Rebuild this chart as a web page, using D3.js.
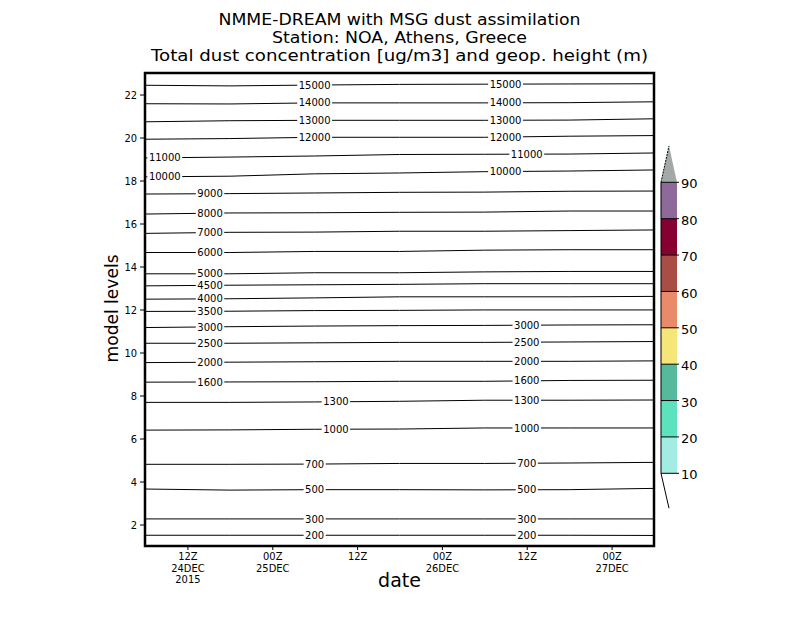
<!DOCTYPE html>
<html lang="en">
<head>
<meta charset="UTF-8">
<title>NMME-DREAM dust - NOA, Athens</title>
<script src="https://d3js.org/d3.v7.min.js"></script>
<style>
  body { margin: 0; background: #fff; }
  svg { display: block; font-family: "DejaVu Sans", sans-serif; }
</style>
</head>
<body>
<div id="chart"></div>
<script>
const sampleHours = [0, 12, 24, 36, 48, 60, 72];

const heightValues = [15000, 14000, 13000, 12000, 11000, 10000, 9000, 8000, 7000, 6000,
                      5000, 4500, 4000, 3500, 3000, 2500, 2000, 1600, 1300, 1000, 700, 500, 300, 200];

// model level of each contour at sampleHours
const heightLevels = [
  [22.43, 22.40, 22.44, 22.47, 22.48, 22.49, 22.50],
  [21.57, 21.56, 21.61, 21.61, 21.61, 21.62, 21.66],
  [20.73, 20.78, 20.80, 20.80, 20.80, 20.81, 20.87],
  [19.92, 19.95, 20.01, 20.01, 20.01, 20.06, 20.09],
  [19.05, 19.09, 19.14, 19.21, 19.22, 19.23, 19.28],
  [18.17, 18.20, 18.31, 18.35, 18.41, 18.44, 18.49],
  [17.37, 17.39, 17.42, 17.45, 17.46, 17.50, 17.51],
  [16.44, 16.49, 16.50, 16.52, 16.53, 16.58, 16.58],
  [15.54, 15.59, 15.60, 15.64, 15.64, 15.67, 15.70],
  [14.65, 14.65, 14.70, 14.70, 14.76, 14.78, 14.78],
  [13.66, 13.66, 13.71, 13.71, 13.75, 13.77, 13.77],
  [13.10, 13.13, 13.15, 13.17, 13.20, 13.20, 13.20],
  [12.48, 12.50, 12.54, 12.59, 12.59, 12.59, 12.61],
  [11.91, 11.92, 11.95, 11.96, 11.98, 11.98, 11.98],
  [11.16, 11.20, 11.23, 11.25, 11.26, 11.28, 11.29],
  [10.43, 10.43, 10.45, 10.47, 10.47, 10.49, 10.51],
  [9.53, 9.55, 9.57, 9.59, 9.59, 9.59, 9.61],
  [8.62, 8.63, 8.64, 8.66, 8.66, 8.70, 8.71],
  [7.68, 7.68, 7.70, 7.73, 7.78, 7.78, 7.79],
  [6.39, 6.40, 6.43, 6.44, 6.49, 6.49, 6.49],
  [4.80, 4.80, 4.81, 4.84, 4.84, 4.86, 4.89],
  [3.65, 3.60, 3.62, 3.62, 3.61, 3.62, 3.68],
  [2.26, 2.26, 2.26, 2.26, 2.26, 2.26, 2.26],
  [1.50, 1.50, 1.50, 1.50, 1.50, 1.50, 1.49]
];

// where the contour labels sit (hours after 06Z 24DEC)
const labelHours = [
  [24, 51], [24, 51], [24, 51], [24, 51], [2.8, 54], [2.8, 51],
  [9.2], [9.2], [9.2], [9.2], [9.2], [9.2], [9.2], [9.2],
  [9.2, 54], [9.2, 54], [9.2, 54], [9.2, 54],
  [27, 54], [27, 54], [24, 54], [24, 54], [24, 54], [24, 54]
];

const levelTicks = [2, 4, 6, 8, 10, 12, 14, 16, 18, 20, 22];
const tickHours = [6, 18, 30, 42, 54, 66];
const tickLabels = [["12Z", "24DEC", "2015"], ["00Z", "25DEC"], ["12Z"], ["00Z", "26DEC"], ["12Z"], ["00Z", "27DEC"]];

const dustBounds = [10, 20, 30, 40, 50, 60, 70, 80, 90];
const dustColors = ["#a3ece3", "#5ce2bd", "#55ba9b", "#f6e67a", "#e98b6b", "#a94e44", "#870032", "#8e6a9b"];
const dustOverColor = "#a2a9a6";

const titleLines = [
  "NMME-DREAM with MSG dust assimilation",
  "Station: NOA, Athens, Greece",
  "Total dust concentration [ug/m3] and geop. height (m)"
];
const titleWidths = [362, 255, 497];

const svg = d3.select('#chart').append('svg')
    .attr('width', 800)
    .attr('height', 618);

const margin = {top: 73, right: 146, bottom: 72, left: 145},
      width = 800 - margin.left - margin.right,
      height = 618 - margin.top - margin.bottom,
      g = svg.append('g').attr('transform', `translate(${margin.left},${margin.top})`);

const t0 = Date.UTC(2015, 11, 24, 6);
const hr = h => new Date(t0 + h * 3600e3);

const x = d3.scaleUtc().domain([hr(0), hr(72)]).range([0, width]);
const y = d3.scaleLinear().domain([1, 23]).range([height, 0]);

// contour lines
const line = d3.line()
    .x((d, i) => x(hr(sampleHours[i])))
    .y(d => y(d));

g.selectAll('.contour')
  .data(heightLevels)
  .enter().append('path')
    .attr('class', 'contour')
    .attr('fill', 'none')
    .attr('stroke', '#000')
    .attr('stroke-width', 1)
    .attr('d', line);

// contour labels with a white gap behind them
heightValues.forEach((val, k) => {
  const levelAt = d3.scaleLinear().domain(sampleHours).range(heightLevels[k]);
  labelHours[k].forEach(h => {
    const lx = x(hr(h)), ly = y(levelAt(h));
    const lab = g.append('g').attr('transform', `translate(${lx},${ly})`);
    const bg = lab.append('rect').attr('fill', '#fff');
    const txt = lab.append('text')
        .attr('text-anchor', 'middle')
        .attr('dy', '0.36em')
        .style('font-size', '10px')
        .text(val);
    const w = txt.node().getComputedTextLength() + 3;
    bg.attr('x', -w / 2).attr('y', -4).attr('width', w).attr('height', 8);
  });
});

// y axis
const yAxis = g.append('g')
    .call(d3.axisLeft(y).tickValues(levelTicks).tickSize(5).tickPadding(3));
yAxis.select('.domain').remove();
yAxis.selectAll('text').style('font-size', '11px').style('font-family', '"DejaVu Sans Condensed", "DejaVu Sans"');

// x axis
const xAxis = g.append('g')
    .attr('transform', `translate(0,${height})`)
    .call(d3.axisBottom(x).tickValues(tickHours.map(hr)).tickSize(4).tickFormat(''));
xAxis.select('.domain').remove();
xAxis.selectAll('.tick').each(function(d, i) {
  const t = d3.select(this).append('text')
      .attr('fill', '#000')
      .attr('text-anchor', 'middle')
      .style('font-size', '11px')
      .style('font-family', '"DejaVu Sans Condensed", "DejaVu Sans"');
  tickLabels[i].forEach((s, j) => {
    t.append('tspan').attr('x', 0).attr('y', 14 + j * 11.5).text(s);
  });
});

// frame
g.append('rect')
    .attr('width', width)
    .attr('height', height)
    .attr('fill', 'none')
    .attr('stroke', '#000')
    .attr('stroke-width', 2.5);

// axis titles
svg.append('text')
    .attr('transform', `translate(118,${margin.top + y(12.05)}) rotate(-90)`)
    .attr('text-anchor', 'middle')
    .attr('textLength', 108)
    .attr('lengthAdjust', 'spacingAndGlyphs')
    .style('font-size', '18px')
    .text('model levels');

svg.append('text')
    .attr('x', margin.left + width / 2)
    .attr('y', 587)
    .attr('text-anchor', 'middle')
    .style('font-size', '19px')
    .text('date');

// title
svg.selectAll('.title')
  .data(titleLines)
  .enter().append('text')
    .attr('class', 'title')
    .attr('x', margin.left + width / 2)
    .attr('y', (d, i) => 25 + i * 18)
    .attr('text-anchor', 'middle')
    .attr('textLength', (d, i) => titleWidths[i])
    .attr('lengthAdjust', 'spacingAndGlyphs')
    .style('font-size', '15px')
    .text(d => d);

// colour bar
const cb = svg.append('g').attr('transform', 'translate(661,0)');
const cbW = 16;
const c = d3.scaleLinear().domain([10, 90]).range([473.3, 182.3]);
const step = c(10) - c(20);

cb.selectAll('.bin')
  .data(dustColors)
  .enter().append('rect')
    .attr('class', 'bin')
    .attr('x', 0)
    .attr('y', (d, i) => c(dustBounds[i + 1]))
    .attr('width', cbW)
    .attr('height', (d, i) => c(dustBounds[i]) - c(dustBounds[i + 1]))
    .attr('fill', d => d);

cb.append('path')
    .attr('d', `M0,${c(90)}L${cbW},${c(90)}L${cbW / 2},${c(90) - step}Z`)
    .attr('fill', dustOverColor);
cb.append('path')
    .attr('d', `M0,${c(90)}L${cbW / 2},${c(90) - step}`)
    .attr('stroke', '#000')
    .attr('stroke-dasharray', '2,1')
    .attr('fill', 'none');
cb.append('path')
    .attr('d', `M0,${c(10)}L${cbW / 2},${c(10) + step * 0.96}`)
    .attr('stroke', '#000')
    .attr('fill', 'none');
cb.append('line')
    .attr('x1', 0).attr('x2', 0)
    .attr('y1', c(10)).attr('y2', c(90))
    .attr('stroke', '#000');

cb.selectAll('.cbtick')
  .data(dustBounds)
  .enter().append('line')
    .attr('class', 'cbtick')
    .attr('x1', 0).attr('x2', cbW + 2)
    .attr('y1', d => c(d)).attr('y2', d => c(d))
    .attr('stroke', '#000');

cb.selectAll('.cblabel')
  .data(dustBounds)
  .enter().append('text')
    .attr('class', 'cblabel')
    .attr('x', cbW + 4)
    .attr('y', d => c(d) + 1.5)
    .attr('dy', '0.36em')
    .style('font-size', '13px')
    .text(d => d);
</script>
</body>
</html>
